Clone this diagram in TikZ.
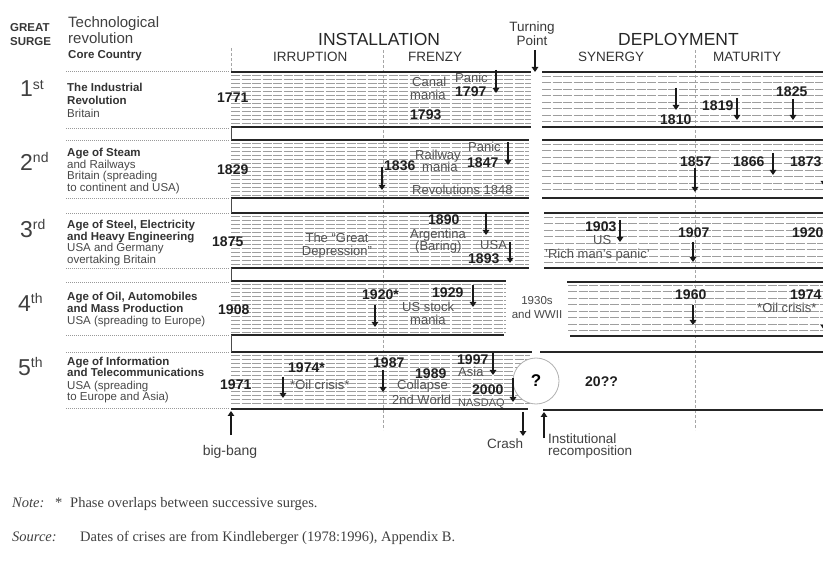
\documentclass[tikz,border=0pt]{standalone}
\usepackage{fontspec}
\setmainfont{Liberation Sans}
\newfontfamily\notefont{Liberation Serif}
\usetikzlibrary{arrows.meta}
\newcommand\fs[1]{\fontsize{#1}{#1}\selectfont}
\newcommand\darr[4]{\coordinate (#1s) at (#2,#3); \coordinate (#1e) at (#2,#4); \draw[arr] (#1s) -- (#1e);}
\newcommand\rank[4]{\node[tx, text=black!75] (#1) at (#2,#3) {\fs{23}#4};}
\begin{document}
\begin{tikzpicture}[x=1pt,y=-1pt,
  tx/.style={inner sep=0pt, anchor=base west},
  yr/.style={tx, font=\fs{14}\bfseries, text=black!88},
  lb/.style={tx, font=\fs{13}, text=black!68},
  hd/.style={tx, font=\fs{13.5}, text=black!80},
  ttl/.style={tx, font=\fs{17.5}, text=black!85},
  dsb/.style={tx, font=\fs{11.5}\bfseries, text=black!80},
  dsr/.style={tx, font=\fs{11.5}, text=black!72},
  arr/.style={line width=1.4pt, black!90, -{Triangle[width=6.5pt,length=5pt]}},
  band/.style={line width=1.2pt, black!85},
  hatch/.style={line width=0.5pt, black!38, dash pattern=on 9pt off 1.5pt},
  vdash/.style={line width=0.6pt, black!35, dash pattern=on 3pt off 2pt},
  ldot/.style={line width=0.6pt, black!40, dash pattern=on 1pt off 1pt},
  gapl/.style={line width=0.8pt, black!70}]
\useasboundingbox (0,0) rectangle (823,572);
\clip (0,0) rectangle (823,572);
% dashed phase separators
\draw[vdash] (231,48) -- (231,72);
\draw[vdash] (383,50) -- (383,430);
\draw[vdash] (695,50) -- (695,430);
% label dotted rules
\foreach \y in {71,128,140,198,213,268,282,335,352,408}
  \draw[ldot] (66,\y) -- (230,\y);
% installation hatching
\foreach \y in {75.5,79.5,...,124} \draw[hatch] (231,\y) -- (531,\y);
\foreach \y in {143.5,147.5,...,196} \draw[hatch] (231,\y) -- (529,\y);
\foreach \y in {216.5,220.5,...,265} \draw[hatch] (231,\y) -- (529,\y);
\foreach \y in {284.5,288.5,...,333} \draw[hatch] (231,\y) -- (506,\y);
\foreach \y in {355.5,359.5,...,406} \draw[hatch] (231,\y) -- (530,\y);
% deployment hatching
\foreach \y in {76,82.5,...,124} \draw[hatch] (542,\y) -- (823,\y);
\foreach \y in {144,150.5,...,195} \draw[hatch] (542,\y) -- (823,\y);
\foreach \y in {217,223.5,...,265} \draw[hatch] (544,\y) -- (823,\y);
\foreach \y in {285,291.5,...,332} \draw[hatch] (568,\y) -- (823,\y);
% circle
\node[circle, draw=black!30, line width=0.8pt, fill=white, minimum size=46pt, inner sep=0pt] (q) at (536,381) {\fs{17}\bfseries ?};
% band borders
\draw[band] (231,72) -- (531,72) (542,72) -- (823,72);
\draw[band] (231,127) -- (531,127) (542,127) -- (823,127);
\draw[band] (231,140) -- (529,140) (542,140) -- (823,140);
\draw[band] (231,198) -- (529,198) (542,198) -- (823,198);
\draw[band] (231,213) -- (529,213) (544,213) -- (823,213);
\draw[band] (231,268) -- (529,268) (544,268) -- (823,268);
\draw[band] (231,281) -- (506,281) (567,282) -- (823,282);
\draw[band] (231,335) -- (504,335) (570,336) -- (823,336);
\draw[band] (231,352) -- (532,352) (540,352) -- (823,352);
\draw[band] (231,409) -- (528,409) (543,410) -- (823,410);
% left joins between bands
\draw[gapl] (231,127) -- (231,140) (231,198) -- (231,213) (231,268) -- (231,281) (231,335) -- (231,352);
% header
\node[tx, font=\fs{11.5}\bfseries, text=black!78] (great) at (10,32) {GREAT};
\node[tx, font=\fs{11.5}\bfseries, text=black!78] (surge) at (10,46) {SURGE};
\node[tx, font=\fs{15}, text=black!75] (tech) at (68,28) {Technological};
\node[tx, font=\fs{15}, text=black!75] (revo) at (68,44) {revolution};
\node[dsb] (core) at (68,59) {Core Country};
\node[ttl] (inst) at (318,46) {INSTALLATION};
\node[hd] (irr) at (273,62) {IRRUPTION};
\node[hd] (fre) at (408,62) {FRENZY};
\node[tx, anchor=base, font=\fs{13.5}, text=black!78] (turn1) at (532,32) {Turning};
\node[tx, anchor=base, font=\fs{13.5}, text=black!78] (turn2) at (532,46) {Point};
\darr{tp}{535}{50}{72}
\node[ttl] (dep) at (618,46) {DEPLOYMENT};
\node[hd] (syn) at (578,62) {SYNERGY};
\node[hd] (mat) at (713,62) {MATURITY};
% row labels
\rank{r1}{20}{97}{1\raisebox{7pt}{\fs{14}st}}
\node[dsb] (d11) at (67,92) {The Industrial};
\node[dsb] (d12) at (67,105) {Revolution};
\node[dsr] (d13) at (67,118) {Britain};
\rank{r2}{20}{171}{2\raisebox{8pt}{\fs{14}nd}}
\node[dsb] (d21) at (67,157) {Age of Steam};
\node[dsr] (d22) at (67,168.5) {and Railways};
\node[dsr] (d23) at (67,180) {Britain (spreading};
\node[dsr] (d24) at (67,191.7) {to continent and USA)};
\rank{r3}{20}{238}{3\raisebox{8pt}{\fs{14}rd}}
\node[dsb] (d31) at (67,229) {Age of Steel, Electricity};
\node[dsb] (d32) at (67,240.5) {and Heavy Engineering};
\node[dsr] (d33) at (67,252) {USA and Germany};
\node[dsr] (d34) at (67,264) {overtaking Britain};
\rank{r4}{18}{312}{4\raisebox{8pt}{\fs{14}th}}
\node[dsb] (d41) at (67,301) {Age of Oil, Automobiles};
\node[dsb] (d42) at (67,313) {and Mass Production};
\node[dsr] (d43) at (67,324.5) {USA (spreading to Europe)};
\rank{r5}{18}{376}{5\raisebox{8pt}{\fs{14}th}}
\node[dsb] (d51) at (67,366) {Age of Information};
\node[dsb] (d52) at (67,377) {and Telecommunications};
\node[dsr] (d53) at (67,389) {USA (spreading};
\node[dsr] (d54) at (67,400) {to Europe and Asia)};
% row 1
\node[yr] (y1771) at (217,103) {1771};
\node[lb] (canal) at (412,87) {Canal};
\node[lb] (cmania) at (410,100) {mania};
\node[lb] (panic1) at (455,83) {Panic};
\node[yr] (y1797) at (455,97) {1797};
\darr{a1797}{496}{70}{93}
\node[yr] (y1793) at (410,120) {1793};
\darr{a1810}{676}{88}{110}
\node[yr] (y1810) at (660,125) {1810};
\node[yr] (y1819) at (702,111) {1819};
\darr{a1819}{737}{98}{120}
\node[yr] (y1825) at (776,97) {1825};
\darr{a1825}{793}{99}{120}
% row 2
\node[yr] (y1829) at (217,175) {1829};
\node[yr] (y1836) at (384,171) {1836};
\darr{a1836}{382}{167}{190}
\node[lb] (rail) at (415,159.5) {Railway};
\node[lb] (rmania) at (422,171.5) {mania};
\node[lb] (panic2) at (468,151.5) {Panic};
\node[yr] (y1847) at (467,168) {1847};
\darr{a1847}{508}{142}{165}
\node[lb] (rev) at (412,195) {Revolutions 1848};
\node[yr] (y1857) at (680,167) {1857};
\darr{a1857}{695}{168}{192}
\node[yr] (y1866) at (733,167) {1866};
\darr{a1866}{773}{153}{175}
\node[yr] (y1873) at (790,167) {1873};
\darr{a1873}{824}{170}{186}
% row 3
\node[yr] (y1875) at (212,247) {1875};
\node[lb, anchor=base] (great1) at (337,243) {The ``Great};
\node[lb, anchor=base] (great2) at (337,256) {Depression''};
\node[yr] (y1890) at (428,225) {1890};
\node[lb] (arg) at (410,239) {Argentina};
\node[lb] (bar) at (415,251) {(Baring)};
\darr{a1890}{486}{212}{235}
\node[lb] (usa3) at (480,250) {USA};
\node[yr] (y1893) at (468,264) {1893};
\darr{a1893}{510}{242}{263}
\node[yr] (y1903) at (585,232) {1903};
\darr{a1903}{620}{220}{242}
\node[lb] (us3) at (593,245) {US};
\node[lb] (rich) at (545,259) {'Rich man's panic'};
\node[yr] (y1907) at (678,238) {1907};
\darr{a1907}{693}{242}{262}
\node[yr] (y1920b) at (792,238) {1920};
% row 4
\node[yr] (y1908) at (218,315) {1908};
\node[yr] (y1920) at (362,300) {1920*};
\darr{a1920}{375}{305}{327}
\node[yr] (y1929) at (432,298) {1929};
\darr{a1929}{473}{285}{307}
\node[lb] (usst) at (402,312) {US stock};
\node[lb] (smania) at (410,325) {mania};
\node[tx, anchor=base, font=\fs{11.5}, text=black!72] (w1) at (537,305) {1930s};
\node[tx, anchor=base, font=\fs{11.5}, text=black!72] (w2) at (537,319) {and WWII};
\node[yr] (y1960) at (675,300) {1960};
\darr{a1960}{693}{305}{325}
\node[yr] (y1974b) at (790,300) {1974};
\node[lb] (oil4) at (757,313) {*Oil crisis*};
\darr{a1974b}{824}{316}{330}
% row 5
\node[yr] (y1971) at (220,390) {1971};
\node[yr] (y1974) at (288,373) {1974*};
\darr{a1974}{283}{377}{398}
\node[lb] (oil5) at (290,390) {*Oil crisis*};
\node[yr] (y1987) at (373,368) {1987};
\darr{a1987}{383}{370}{392}
\node[yr] (y1989) at (415,378) {1989};
\node[lb] (coll) at (397,390) {Collapse};
\node[lb] (world) at (392,405) {2nd World};
\node[yr] (y1997) at (457,365) {1997};
\node[lb] (asia) at (458,377) {Asia};
\darr{a1997}{493}{353}{375}
\node[yr] (y2000) at (472,394.5) {2000};
\darr{a2000}{513}{378}{402}
\node[tx, font=\fs{11}, text=black!68] (nasdaq) at (458,406.5) {NASDAQ};
\node[yr] (y20) at (585,387) {20??};
% bottom markers
\coordinate (bbs) at (231,435); \coordinate (bbe) at (231,411);
\draw[arr] (bbs) -- (bbe);
\node[tx, anchor=base, font=\fs{14}, text=black!75] (bigbang) at (230,455) {big-bang};
\darr{cr}{523}{412}{436}
\node[tx, font=\fs{13.5}, text=black!75] (crash) at (487,448) {Crash};
\coordinate (irs) at (544,438); \coordinate (ire) at (544,412);
\draw[arr] (irs) -- (ire);
\node[tx, font=\fs{13.5}, text=black!75] (ins1) at (548,443) {Institutional};
\node[tx, font=\fs{13.5}, text=black!75] (ins2) at (548,456) {recomposition};
% notes
\node[tx, font=\notefont\fs{14.5}\itshape, text=black!75] (note) at (12,507) {Note:};
\node[tx, font=\notefont\fs{14.5}, text=black!75] (star) at (55,507) {*};
\node[tx, font=\notefont\fs{14.5}, text=black!75] (notet) at (70,507) {Phase overlaps between successive surges.};
\node[tx, font=\notefont\fs{14.5}\itshape, text=black!75] (src) at (12,541) {Source:};
\node[tx, font=\notefont\fs{14.5}, text=black!75] (srct) at (80,541) {Dates of crises are from Kindleberger (1978:1996), Appendix B.};
\end{tikzpicture}
\end{document}
